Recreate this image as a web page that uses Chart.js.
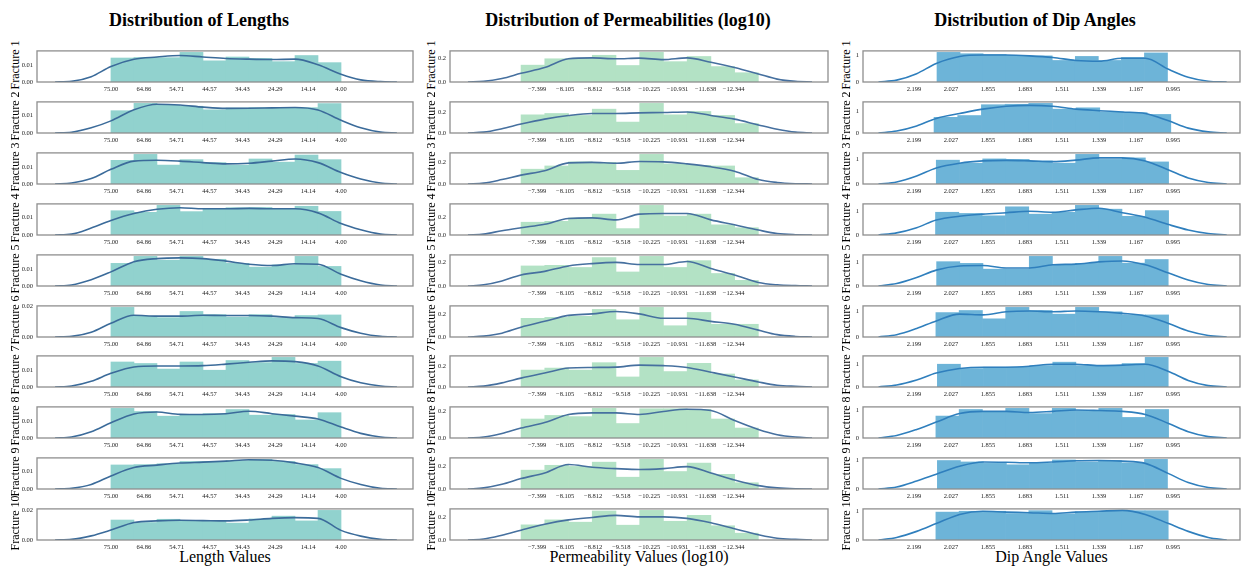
<!DOCTYPE html>
<html><head><meta charset="utf-8">
<script src="https://cdn.jsdelivr.net/npm/chart.js@4.4.1/dist/chart.umd.min.js"></script>
<style>
html,body{margin:0;padding:0;background:#fff;}
body{width:1243px;height:570px;position:relative;overflow:hidden;font-family:'Liberation Serif','Times New Roman',serif;}
.t{position:absolute;transform:translate(-50%,-50%);white-space:nowrap;color:#000;}
.title{font-weight:bold;font-size:18px;}
.xl{font-size:16px;}
.rl{position:absolute;font-size:12px;white-space:nowrap;transform:translate(-50%,-50%) rotate(-90deg);color:#000;}
canvas{position:absolute;}
</style></head><body>
<script>
// ---------------- data ----------------
const fractureNames = ['Fracture 1','Fracture 2','Fracture 3','Fracture 4','Fracture 5','Fracture 6','Fracture 7','Fracture 8','Fracture 9','Fracture 10'];

const lengthTickLabels = ['75.00','64.86','54.71','44.57','34.43','24.29','14.14','4.00'];
const permTickLabels = ['\u22127.399','\u22128.105','\u22128.812','\u22129.518','\u221210.225','\u221210.931','\u221211.638','\u221212.344'];
const dipTickLabels = ['2.199','2.027','1.855','1.683','1.511','1.339','1.167','0.995'];

// bin ranges (in tick-index units)
const lengthBinStart = [0,0,0,0,0,0,0,0,0,0];
const lengthBinEnd   = [7,7,7,7,7,7,7,7,7,7];
const permBinStart = [-0.57,-0.57,-0.57,-0.57,-0.57,-0.57,-0.57,-0.57,-0.57,-0.57];
const permBinEnd   = [7.88,7.88,7.88,7.88,7.88,7.88,7.88,7.88,7.88,7.88];
const dipBinStart = [0.62,0.54,0.60,0.58,0.61,0.59,0.63,0.59,0.63,0.59];
const dipBinEnd   = [6.85,6.94,6.88,6.88,6.87,6.88,6.87,6.88,6.85,6.87];

// histogram heights (density)
const lengthBars = [
 [0.0145,0.0148,0.0147,0.0179,0.0128,0.0151,0.0142,0.0123,0.0160,0.0117],
 [0.0125,0.0166,0.0155,0.0150,0.0130,0.0140,0.0142,0.0143,0.0142,0.0165],
 [0.0144,0.0180,0.0115,0.0148,0.0130,0.0115,0.0152,0.0133,0.0176,0.0148],
 [0.0136,0.0127,0.0166,0.0131,0.0147,0.0153,0.0154,0.0147,0.0161,0.0132],
 [0.0133,0.0174,0.0152,0.0174,0.0157,0.0133,0.0111,0.0124,0.0174,0.0115],
 [0.0196,0.0138,0.0128,0.0169,0.0148,0.0132,0.0148,0.0128,0.0142,0.0146],
 [0.0152,0.0143,0.0109,0.0152,0.0102,0.0161,0.0148,0.0180,0.0143,0.0157],
 [0.0179,0.0160,0.0132,0.0142,0.0147,0.0172,0.0138,0.0142,0.0109,0.0153],
 [0.0138,0.0140,0.0145,0.0158,0.0158,0.0163,0.0170,0.0158,0.0140,0.0117],
 [0.0135,0.0118,0.0140,0.0131,0.0129,0.0114,0.0142,0.0161,0.0129,0.0200]
];
const permBars = [
 [0.140,0.193,0.198,0.222,0.137,0.246,0.169,0.212,0.128,0.077],
 [0.173,0.186,0.167,0.227,0.104,0.282,0.173,0.205,0.167,0.090],
 [0.137,0.167,0.205,0.200,0.126,0.274,0.186,0.173,0.167,0.058],
 [0.142,0.152,0.190,0.232,0.071,0.329,0.210,0.232,0.113,0.081],
 [0.170,0.175,0.157,0.241,0.119,0.251,0.157,0.215,0.106,0.048],
 [0.166,0.174,0.184,0.245,0.153,0.263,0.100,0.218,0.113,0.113],
 [0.160,0.179,0.160,0.230,0.095,0.280,0.146,0.224,0.123,0.067],
 [0.143,0.170,0.161,0.223,0.109,0.220,0.220,0.216,0.143,0.075],
 [0.163,0.205,0.195,0.232,0.102,0.256,0.151,0.224,0.127,0.054],
 [0.131,0.174,0.154,0.251,0.128,0.256,0.162,0.213,0.123,0.059]
];
const dipBars = [
 [1.10,1.05,1.02,0.99,0.97,0.80,0.95,0.80,0.91,1.08],
 [0.71,0.79,1.28,1.30,1.34,1.08,1.14,0.95,0.92,0.84],
 [0.95,0.83,1.00,0.98,0.92,0.83,1.18,0.98,1.04,0.88],
 [0.96,0.91,0.81,1.19,0.88,0.96,1.25,1.09,0.79,1.03],
 [1.01,0.94,0.70,0.70,1.23,0.88,0.94,1.23,0.95,1.10],
 [0.94,1.02,0.70,1.14,1.02,0.88,1.14,0.97,0.85,0.85],
 [1.00,0.81,0.87,0.87,0.94,1.09,0.94,0.91,1.03,1.30],
 [0.80,1.04,0.97,1.08,0.89,1.08,1.00,1.08,0.75,1.04],
 [1.00,0.95,0.90,0.85,0.90,1.02,0.95,1.00,0.92,1.04],
 [0.97,1.00,1.00,0.92,1.02,0.91,0.98,1.00,1.02,1.02]
];

// KDE curves: sample positions (tick-index units) and values
const lengthKdeX = [-1.7,-1.2,-0.6,0,0.7,1.4,2.1,2.8,3.5,4.2,4.9,5.6,6.3,7.0,7.6,8.2,8.7];
const lengthKde = [
 [0,0.0004,0.0032,0.0094,0.0138,0.0151,0.0160,0.0151,0.0142,0.0138,0.0136,0.0138,0.0104,0.0047,0.0013,0.0002,0],
 [0,0.0004,0.0029,0.0068,0.0130,0.0161,0.0157,0.0145,0.0138,0.0139,0.0141,0.0143,0.0129,0.0071,0.0029,0.0005,0],
 [0,0.0006,0.0033,0.0089,0.0139,0.0144,0.0139,0.0130,0.0122,0.0126,0.0139,0.0152,0.0130,0.0070,0.0030,0.0006,0],
 [0,0.0005,0.0039,0.0081,0.0120,0.0144,0.0153,0.0147,0.0147,0.0149,0.0147,0.0147,0.0124,0.0064,0.0029,0.0005,0],
 [0,0.0006,0.0037,0.0083,0.0143,0.0161,0.0165,0.0161,0.0146,0.0128,0.0120,0.0131,0.0128,0.0069,0.0031,0.0006,0],
 [0,0.0004,0.0031,0.0091,0.0144,0.0138,0.0138,0.0144,0.0142,0.0142,0.0138,0.0128,0.0122,0.0062,0.0025,0.0004,0],
 [0,0.0006,0.0035,0.0083,0.0122,0.0128,0.0128,0.0130,0.0139,0.0150,0.0159,0.0154,0.0128,0.0063,0.0026,0.0006,0],
 [0,0.0006,0.0038,0.0092,0.0145,0.0157,0.0143,0.0142,0.0147,0.0162,0.0147,0.0132,0.0115,0.0066,0.0028,0.0006,0],
 [0,0.0004,0.0026,0.0075,0.0123,0.0137,0.0149,0.0154,0.0160,0.0168,0.0165,0.0150,0.0123,0.0061,0.0026,0.0004,0],
 [0,0.0004,0.0028,0.0067,0.0118,0.0129,0.0133,0.0131,0.0129,0.0135,0.0146,0.0151,0.0146,0.0065,0.0026,0.0004,0]
];
const permKdeX = [-2.46,-1.9,-1.25,-0.57,0.27,1.12,1.96,2.81,3.65,4.50,5.34,6.19,7.03,7.88,8.55,9.2,9.79];
const permKde = [
 [0,0.005,0.029,0.072,0.120,0.193,0.200,0.193,0.198,0.186,0.200,0.164,0.120,0.067,0.024,0.005,0],
 [0,0.008,0.041,0.085,0.132,0.167,0.186,0.186,0.192,0.195,0.200,0.167,0.132,0.077,0.036,0.008,0],
 [0,0.008,0.041,0.082,0.123,0.195,0.200,0.192,0.208,0.205,0.186,0.159,0.118,0.041,0.014,0.003,0],
 [0,0.010,0.048,0.081,0.119,0.184,0.190,0.168,0.232,0.239,0.239,0.168,0.113,0.055,0.016,0.003,0],
 [0,0.010,0.043,0.094,0.124,0.170,0.190,0.200,0.182,0.182,0.208,0.149,0.094,0.030,0.010,0.003,0],
 [0,0.008,0.034,0.087,0.139,0.192,0.205,0.226,0.205,0.166,0.166,0.139,0.113,0.061,0.021,0.005,0],
 [0,0.008,0.039,0.084,0.132,0.179,0.185,0.188,0.207,0.202,0.185,0.140,0.095,0.048,0.017,0.006,0],
 [0,0.007,0.034,0.075,0.116,0.177,0.189,0.189,0.177,0.200,0.216,0.207,0.132,0.064,0.025,0.007,0],
 [0,0.010,0.041,0.090,0.139,0.212,0.188,0.176,0.168,0.176,0.193,0.139,0.078,0.029,0.010,0.002,0],
 [0,0.008,0.041,0.085,0.136,0.174,0.195,0.213,0.200,0.200,0.187,0.149,0.097,0.046,0.015,0.005,0]
];
const dipKdeX = [-0.96,-0.47,0.07,0.60,1.23,1.86,2.49,3.12,3.75,4.37,5.00,5.63,6.25,6.88,7.41,7.95,8.45];
const dipKde = [
 [0,0.07,0.31,0.69,0.95,1.00,1.00,0.97,0.91,0.80,0.77,0.88,0.88,0.47,0.18,0.03,0],
 [0,0.09,0.32,0.66,0.88,1.08,1.21,1.25,1.21,1.08,1.01,0.95,0.88,0.55,0.22,0.05,0],
 [0,0.08,0.32,0.64,0.83,0.92,0.94,0.92,0.89,0.95,1.04,1.04,0.92,0.56,0.24,0.06,0],
 [0,0.09,0.31,0.63,0.79,0.88,0.94,1.00,0.96,1.06,1.13,0.94,0.75,0.44,0.21,0.06,0],
 [0,0.10,0.35,0.66,0.83,0.85,0.75,0.75,0.88,0.91,1.00,1.04,0.88,0.54,0.25,0.06,0],
 [0,0.09,0.33,0.62,0.88,0.85,0.97,1.00,0.97,1.00,0.97,0.91,0.81,0.52,0.23,0.06,0],
 [0,0.09,0.31,0.61,0.81,0.87,0.87,0.91,1.00,1.00,0.94,0.96,1.00,0.68,0.29,0.06,0],
 [0,0.09,0.31,0.58,0.89,0.97,0.97,0.93,0.97,1.02,1.00,0.97,0.86,0.53,0.23,0.05,0],
 [0,0.07,0.28,0.52,0.80,0.95,0.94,0.92,0.95,0.99,1.00,0.98,0.90,0.54,0.23,0.05,0],
 [0,0.09,0.30,0.57,0.89,1.00,0.97,0.95,0.92,0.97,1.00,1.03,0.89,0.57,0.30,0.09,0]
];

// y-axis tick values
const lengthYTicks = [[0,0.01],[0,0.01],[0,0.01],[0,0.01],[0,0.01],[0,0.02],[0,0.01],[0,0.01],[0,0.01],[0,0.02]];
const permYTicks = [0,0.2];
const dipYTicks = [0,1];

const columnTitles = ['Distribution of Lengths','Distribution of Permeabilities (log10)','Distribution of Dip Angles'];
const columnXLabels = ['Length Values','Permeability Values (log10)','Dip Angle Values'];

// ---------------- layout / style ----------------
const columns = [
  {title:columnTitles[0], xlabel:columnXLabels[0], tickLabels:lengthTickLabels, bars:lengthBars, kde:lengthKde, kdeX:lengthKdeX,
   binStart:lengthBinStart, binEnd:lengthBinEnd, yTicks:(r)=>lengthYTicks[r], fmt:(v)=>v.toFixed(2),
   barColor:'#91d2ce', lineColor:'#3b6b9a', xMin:-2.25, xMax:9.19, boxL:37, boxR:413, titleX:199, labelX:15},
  {title:columnTitles[1], xlabel:columnXLabels[1], tickLabels:permTickLabels, bars:permBars, kde:permKde, kdeX:permKdeX,
   binStart:permBinStart, binEnd:permBinEnd, yTicks:()=>permYTicks, fmt:(v)=>v.toFixed(1),
   barColor:'#b3e2c5', lineColor:'#46709f', xMin:-3.10, xMax:10.36, boxL:450, boxR:828, titleX:628, labelX:431},
  {title:columnTitles[2], xlabel:columnXLabels[2], tickLabels:dipTickLabels, bars:dipBars, kde:dipKde, kdeX:dipKdeX,
   binStart:dipBinStart, binEnd:dipBinEnd, yTicks:()=>dipYTicks, fmt:(v)=>v.toFixed(0),
   barColor:'#6db4d8', lineColor:'#2f7fbd', xMin:-1.38, xMax:8.81, boxL:863, boxR:1240, titleX:1035, labelX:846}
];
const ROW0 = 48, PITCH = 50.9, BOXH = 34, PADT = 5, XH = 14, YW = 30, PADR = 2;

Chart.defaults.font.family = "'Liberation Serif','Times New Roman',serif";
Chart.defaults.color = '#222';

const framePlugin = {
  id:'frame',
  afterDatasetsDraw(chart){
    const {ctx, chartArea:a} = chart;
    ctx.save();
    ctx.strokeStyle = '#8e8e8e';
    ctx.lineWidth = 1.3;
    ctx.strokeRect(a.left, a.top, a.right - a.left, a.bottom - a.top);
    ctx.restore();
  }
};

function addText(cls, txt, x, y){
  const d = document.createElement('div');
  d.className = cls; d.textContent = txt;
  d.style.left = x + 'px'; d.style.top = y + 'px';
  document.body.appendChild(d);
}

columns.forEach((col) => {
  addText('t title', col.title, col.titleX, 20);
  addText('t xl', col.xlabel, (col.boxL + col.boxR) / 2, 557);
  for (let r = 0; r < 10; r++) {
    const top = Math.round(ROW0 + PITCH * r);
    addText('rl', fractureNames[r], col.labelX, top + BOXH / 2);

    const cv = document.createElement('canvas');
    const w = YW + (col.boxR - col.boxL) + PADR;
    const h = PADT + BOXH + XH;
    cv.width = w; cv.height = h;
    cv.style.width = w + 'px'; cv.style.height = h + 'px';
    cv.style.left = (col.boxL - YW) + 'px';
    cv.style.top = (top - PADT) + 'px';
    document.body.appendChild(cv);

    const heights = col.bars[r];
    const s = col.binStart[r], e = col.binEnd[r];
    const bw = (e - s) / heights.length;
    const barPts = heights.map((v, j) => ({x: s + (j + 0.5) * bw, y: v}));
    const kdePts = col.kde[r].map((v, j) => ({x: col.kdeX[j], y: v}));
    const yMax = 1.05 * Math.max(...heights, ...col.kde[r]);
    const yt = col.yTicks(r);
    const labels = col.tickLabels;

    new Chart(cv, {
      type: 'bar',
      data: {
        datasets: [
          {type:'line', data:kdePts, borderColor:col.lineColor, borderWidth:1.6, pointRadius:0,
           cubicInterpolationMode:'monotone', fill:false, order:0},
          {type:'bar', data:barPts, backgroundColor:col.barColor, borderWidth:0,
           barPercentage:1, categoryPercentage:1, order:1}
        ]
      },
      options: {
        responsive:false, animation:false, maintainAspectRatio:false,
        events: [],
        layout:{autoPadding:false, padding:{top:PADT, right:PADR, left:0, bottom:0}},
        plugins:{legend:{display:false}, tooltip:{enabled:false}},
        scales:{
          x:{type:'linear', min:col.xMin, max:col.xMax, offset:false,
             grid:{display:false, drawTicks:false}, border:{display:false},
             ticks:{font:{size:6.5}, color:'#222', padding:3, maxRotation:0, minRotation:0, autoSkip:false,
                    callback:(v)=>labels[Math.round(v)]},
             afterBuildTicks:(sc)=>{ sc.ticks = labels.map((_, i) => ({value:i})); },
             afterFit:(sc)=>{ sc.height = XH; }},
          y:{min:0, max:yMax,
             grid:{display:false, drawTicks:false}, border:{display:false},
             ticks:{font:{size:6.5}, color:'#222', padding:4, callback:(v)=>col.fmt(v)},
             afterBuildTicks:(sc)=>{ sc.ticks = yt.map(v => ({value:v})); },
             afterFit:(sc)=>{ sc.width = YW; }}
        }
      },
      plugins:[framePlugin]
    });
  }
});
</script>
</body></html>
